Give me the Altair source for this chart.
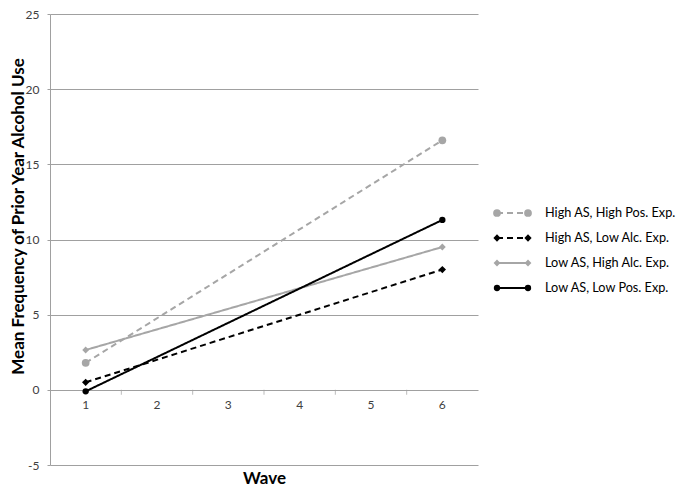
import altair as alt
import pandas as pd

waves = [1, 6]
series = ["High AS, High Pos. Exp.", "High AS, Low Alc. Exp.",
          "Low AS, High Alc. Exp.", "Low AS, Low Pos. Exp."]
high_as_high_pos = [1.8, 16.6]
high_as_low_alc = [0.5, 8.0]
low_as_high_alc = [2.65, 9.5]
low_as_low_pos = [-0.1, 11.3]
wave_labels = [1, 2, 3, 4, 5, 6]
wave_bounds = [1.5, 2.5, 3.5, 4.5, 5.5]
y_ticks = [-5, 0, 5, 10, 15, 20, 25]

colors = ["#A6A6A6", "#000000", "#A6A6A6", "#000000"]
dashes = [[6, 4], [6, 4], [1, 0], [1, 0]]
shapes = ["circle", "diamond", "diamond", "circle"]
widths = [2, 2, 2, 1.1]
sizes = [60, 40, 40, 60]

FONT = "Lato"
GRID = "#A0A0A0"

rows = []
for s, vals in zip(series, [high_as_high_pos, high_as_low_alc, low_as_high_alc, low_as_low_pos]):
    for w, v in zip(waves, vals):
        rows.append({"series": s, "wave": w, "value": v})
df = pd.DataFrame(rows)

xscale = alt.Scale(domain=[0.5, 6.5], nice=False, zero=False)
yscale = alt.Scale(domain=[-5, 25], nice=False, zero=False)

col = alt.Color("series:N", scale=alt.Scale(domain=series, range=colors), legend=None)
dash = alt.StrokeDash("series:N", scale=alt.Scale(domain=series, range=dashes), legend=None)
sw = alt.StrokeWidth("series:N", scale=alt.Scale(domain=series, range=widths), legend=None)
shp = alt.Shape("series:N", scale=alt.Scale(domain=series, range=shapes), legend=None)
sz = alt.Size("series:N", scale=alt.Scale(domain=series, range=sizes), legend=None)

x_enc = alt.X("wave:Q", scale=xscale,
              axis=alt.Axis(title="Wave", labels=False, ticks=False, domain=False, grid=False,
                            titleFont=FONT, titleFontSize=17, titleFontWeight="bold",
                            titleColor="#000000", titlePadding=5))
y_enc = alt.Y("value:Q", scale=yscale,
              axis=alt.Axis(values=y_ticks, title="Mean Frequency of Prior Year Alcohol Use",
                            labelExpr="'' + datum.value",
                            grid=True, gridColor=GRID, gridWidth=1,
                            domainColor=GRID, tickColor=GRID, tickSize=3,
                            labelFont=FONT, labelFontSize=12, labelColor="#404040",
                            labelPadding=8,
                            titleFont=FONT, titleFontSize=17, titleFontWeight="bold",
                            titleColor="#000000", titleAngle=270, titleBaseline="middle",
                            titleAlign="center", titleX=-32, titleY=202))

lines = alt.Chart(df).mark_line().encode(
    x=x_enc, y=y_enc, color=col, strokeDash=dash, strokeWidth=sw, detail="series:N"
)
points = alt.Chart(df).mark_point(filled=True, opacity=1).encode(
    x=alt.X("wave:Q", scale=xscale), y=alt.Y("value:Q", scale=yscale),
    color=col, shape=shp, size=sz
)

bounds_df = pd.DataFrame({"b": wave_bounds})
ticks = alt.Chart(bounds_df).mark_tick(orient="vertical", size=5, thickness=1, color=GRID, yOffset=2.5).encode(
    x=alt.X("b:Q", scale=xscale), y=alt.Y(datum=0, scale=yscale)
)

lab_df = pd.DataFrame({"w": wave_labels})
labels = alt.Chart(lab_df).mark_text(font=FONT, fontSize=12, color="#404040", dy=15).encode(
    x=alt.X("w:Q", scale=xscale), y=alt.Y(datum=0, scale=yscale), text="w:N"
)

main = alt.layer(ticks, lines, points, labels)

leg_df = pd.DataFrame({"series": series})
yleg = alt.Y("series:N", scale=alt.Scale(type="point", domain=series, range=[199, 274], padding=0), axis=None)
leg_dash = alt.StrokeDash("series:N", scale=alt.Scale(domain=series, range=[[5, 5], [5, 5], [1, 0], [1, 0]]), legend=None)
leg_rule = alt.Chart(leg_df).mark_rule().encode(
    x=alt.value(447), x2=alt.value(478), y=yleg, color=col, strokeDash=leg_dash, strokeWidth=sw
)
leg_p1 = alt.Chart(leg_df).mark_point(filled=True, opacity=1).encode(
    x=alt.value(447), y=yleg, color=col, shape=shp, size=sz
)
leg_p2 = alt.Chart(leg_df).mark_point(filled=True, opacity=1).encode(
    x=alt.value(478), y=yleg, color=col, shape=shp, size=sz
)
leg_text = alt.Chart(leg_df).mark_text(align="left", baseline="middle", font=FONT, fontSize=12.7,
                                       color="#000000").encode(
    x=alt.value(495), y=yleg, text="series:N"
)
legend = alt.layer(leg_rule, leg_p1, leg_p2, leg_text)

chart = alt.layer(main, legend).resolve_scale(y="independent").properties(
    width=428, height=451,
    autosize=alt.AutoSizeParams(type="none"),
    padding={"left": 42, "top": 6, "right": 199, "bottom": 26},
).configure_view(stroke=None)

chart.save("out.html", embed_options={"renderer": "svg", "actions": False})
